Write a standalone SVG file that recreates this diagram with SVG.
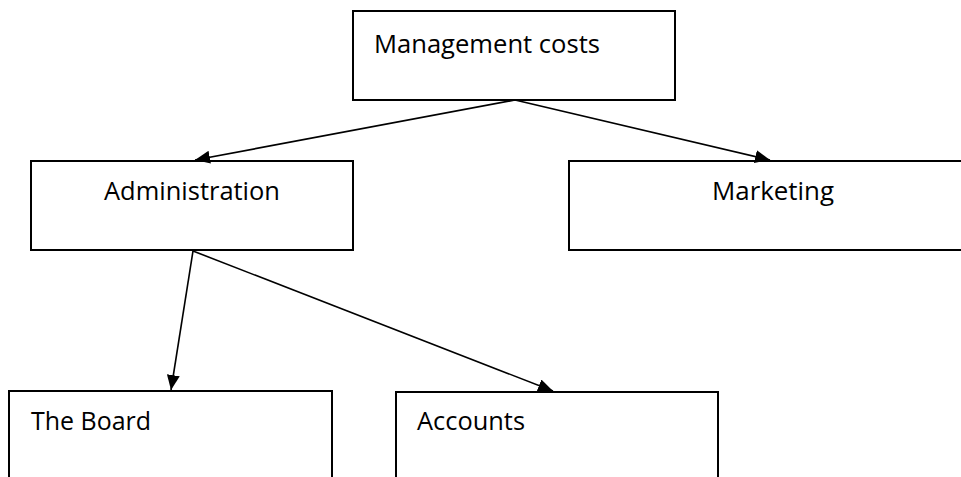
<svg xmlns="http://www.w3.org/2000/svg" width="961" height="477" viewBox="0 0 961 477">
<style>
.box{fill:#fff;stroke:#000;stroke-width:2}
.lbl{font-family:"Open Sans","Liberation Sans",sans-serif;font-size:25px;fill:#000}
.conn{stroke:#000;stroke-width:1.6;fill:none;marker-end:url(#arr)}
</style>
<defs>
<marker id="arr" markerUnits="userSpaceOnUse" markerWidth="16" markerHeight="14" refX="15" refY="6.5" orient="auto">
<path d="M0,0 L15,6.5 L0,13 z" fill="#000"/>
</marker>
</defs>
<rect width="961" height="477" fill="#fff"/>
<g id="management">
<rect class="box" x="353" y="11" width="322" height="89"/>
<text class="lbl" x="374" y="53" textLength="226" lengthAdjust="spacingAndGlyphs">Management costs</text>
</g>
<g id="administration">
<rect class="box" x="31" y="161" width="322" height="89"/>
<text class="lbl" x="104" y="200" textLength="176" lengthAdjust="spacingAndGlyphs">Administration</text>
</g>
<g id="marketing">
<rect class="box" x="569" y="161" width="400" height="89"/>
<text class="lbl" x="712" y="200" textLength="122" lengthAdjust="spacingAndGlyphs">Marketing</text>
</g>
<g id="board">
<rect class="box" x="9" y="391" width="323" height="100"/>
<text class="lbl" x="31" y="430" textLength="120" lengthAdjust="spacingAndGlyphs">The Board</text>
</g>
<g id="accounts">
<rect class="box" x="396" y="392" width="322" height="100"/>
<text class="lbl" x="417" y="430" textLength="108" lengthAdjust="spacingAndGlyphs">Accounts</text>
</g>
<g id="connectors">
<line class="conn" x1="515" y1="100" x2="195" y2="160"/>
<line class="conn" x1="515" y1="100" x2="770" y2="160"/>
<line class="conn" x1="193" y1="251" x2="171" y2="390"/>
<line class="conn" x1="193" y1="251" x2="553" y2="391"/>
</g>
</svg>
